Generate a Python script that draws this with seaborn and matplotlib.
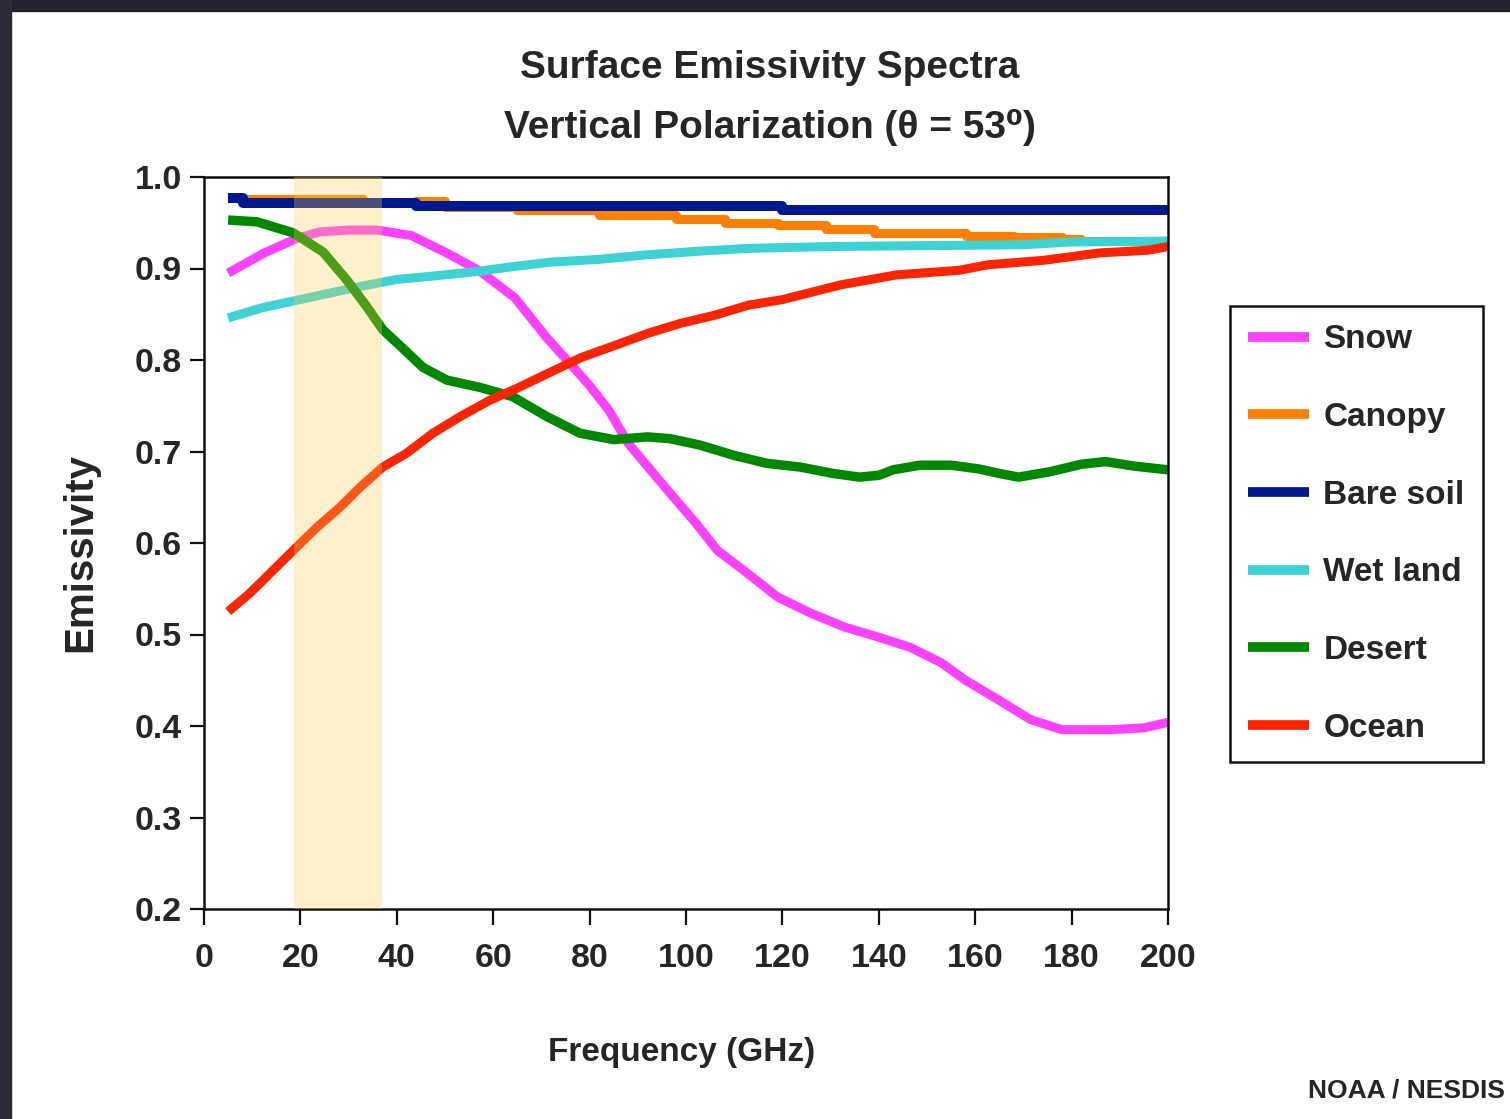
import matplotlib
matplotlib.use("Agg")
import matplotlib.pyplot as plt
import seaborn as sns
import pandas as pd
from matplotlib.patches import Rectangle
from matplotlib import font_manager

# ---------------- data ----------------
series_names = ["Snow", "Canopy", "Bare soil", "Wet land", "Desert", "Ocean"]
series_colors = ["#FF40FF", "#FF7F00", "#00188F", "#3DD2D4", "#008800", "#FF2400"]

snow_x = [5, 12.5, 19.3, 24, 30, 36, 43, 50, 57, 64.5, 71, 77, 80, 84, 88, 95, 102,
          106.5, 112, 119, 126, 133, 140, 146.5, 153, 158, 165, 171.5, 178, 188, 195, 200]
snow_y = [0.895, 0.917, 0.933, 0.940, 0.942, 0.942, 0.936, 0.918, 0.898, 0.868, 0.825,
          0.790, 0.772, 0.745, 0.709, 0.665, 0.622, 0.592, 0.570, 0.541, 0.523, 0.508,
          0.497, 0.486, 0.469, 0.450, 0.428, 0.407, 0.396, 0.396, 0.398, 0.404]

canopy_x = [8, 33, 44, 50, 65, 82, 98, 108, 119, 129, 139, 158, 168, 178, 182, 200]
canopy_y = [0.976, 0.972, 0.974, 0.967, 0.964, 0.959, 0.954, 0.950, 0.947, 0.943,
            0.939, 0.936, 0.934, 0.932, 0.930, 0.930]

baresoil_x = [5, 8, 44, 120, 200]
baresoil_y = [0.977, 0.972, 0.968, 0.964, 0.964]

wetland_x = [5, 12, 19, 26, 33, 40, 50, 57, 64, 72, 82, 92, 103, 113, 130, 150, 170, 180, 200]
wetland_y = [0.846, 0.857, 0.865, 0.873, 0.881, 0.888, 0.893, 0.897, 0.902, 0.907,
             0.910, 0.915, 0.919, 0.922, 0.924, 0.925, 0.926, 0.929, 0.930]

desert_x = [5, 11, 18.5, 24.7, 29.7, 33.8, 37.1, 41, 45.4, 50.4, 57.3, 64, 71.2, 78, 85,
            92, 96.7, 102.9, 109.8, 116.8, 123.7, 130.5, 136, 140, 143, 148.5, 155,
            160.7, 165, 169, 175.6, 182, 187, 193, 200]
desert_y = [0.953, 0.951, 0.939, 0.918, 0.887, 0.858, 0.833, 0.814, 0.792, 0.778, 0.770,
            0.760, 0.738, 0.720, 0.713, 0.716, 0.714, 0.707, 0.696, 0.687, 0.683, 0.676,
            0.672, 0.674, 0.680, 0.685, 0.685, 0.681, 0.676, 0.672, 0.678, 0.686, 0.689,
            0.684, 0.680]

ocean_x = [5, 9.5, 14.3, 19.3, 23.4, 28.2, 32.4, 37.1, 42, 47.5, 53.1, 59.3, 64.9, 71.6,
           78.4, 85.3, 92, 98.8, 106, 113, 120, 132, 143.6, 156.6, 162.6, 174.3, 185.7,
           195.9, 200]
ocean_y = [0.525, 0.545, 0.570, 0.596, 0.617, 0.639, 0.661, 0.683, 0.698, 0.720, 0.738,
           0.756, 0.769, 0.786, 0.803, 0.816, 0.829, 0.840, 0.849, 0.860, 0.866, 0.882,
           0.893, 0.898, 0.904, 0.909, 0.917, 0.920, 0.924]

band_lo, band_hi = 18.7, 36.9          # shaded frequency band (GHz)
x_ticks = list(range(0, 201, 20))
y_ticks = [0.2, 0.3, 0.4, 0.5, 0.6, 0.7, 0.8, 0.9, 1.0]
y_tick_labels = ["0.2", "0.3", "0.4", "0.5", "0.6", "0.7", "0.8", "0.9", "1.0"]

title_1 = "Surface Emissivity Spectra"
title_2 = "Vertical Polarization (\u03b8 = 53\u2070)"
x_label = "Frequency (GHz)"
y_label = "Emissivity"
credit = "NOAA / NESDIS"

# ---------------- style ----------------
sns.set_style("ticks")
avail = {f.name for f in font_manager.fontManager.ttflist}
fam = [f for f in ["Liberation Sans", "DejaVu Sans"] if f in avail] + ["DejaVu Sans"]
plt.rcParams["font.family"] = fam

fig = plt.figure(figsize=(15.10, 11.19), dpi=100)
fig.patch.set_facecolor("white")
ax = fig.add_axes([204 / 1510, 1 - 909 / 1119, 964 / 1510, 732 / 1119])
ax.set_facecolor("white")

frames = [
    (snow_x, snow_y, None, 6.5),
    (canopy_x, canopy_y, "steps-post", 6.5),
    (baresoil_x, baresoil_y, "steps-post", 7.2),
    (wetland_x, wetland_y, None, 6.5),
    (desert_x, desert_y, None, 6.8),
    (ocean_x, ocean_y, None, 6.5),
]
handles = []
for (xs, ys, ds, lw), name, col in zip(frames, series_names, series_colors):
    df = pd.DataFrame({"Frequency": xs, "Emissivity": ys})
    kw = {}
    if ds:
        kw["drawstyle"] = ds
    sns.lineplot(data=df, x="Frequency", y="Emissivity", ax=ax, color=col,
                 linewidth=lw, label=name, legend=False, solid_capstyle="butt",
                 solid_joinstyle="round", **kw)
    handles.append(ax.lines[-1])

ax.axvspan(band_lo, band_hi, color="#FCD052", alpha=0.3, lw=0, zorder=5)

ax.set_xlim(0, 200)
ax.set_ylim(0.2, 1.0)
ax.set_xticks(x_ticks)
ax.set_xticklabels([str(t) for t in x_ticks])
ax.set_yticks(y_ticks)
ax.set_yticklabels(y_tick_labels)
for lab in ax.get_xticklabels() + ax.get_yticklabels():
    lab.set_fontsize(24.5)
    lab.set_fontweight("bold")
ax.tick_params(axis="x", length=11.5, width=1.6, pad=13, color="#111111")
ax.tick_params(axis="y", length=10, width=1.6, pad=6, color="#111111")
for s in ax.spines.values():
    s.set_linewidth(1.8)
    s.set_color("#111111")
    s.set_visible(True)

ax.set_xlabel("")
ax.set_ylabel("")
fig.text(682 / 1510, 1 - 1052 / 1119, x_label, ha="center", va="center",
         fontsize=24, fontweight="bold")
fig.text(80 / 1510, 1 - 552 / 1119, y_label, ha="center", va="center",
         rotation=90, fontsize=29, fontweight="bold")

fig.text(770 / 1510, 1 - 78 / 1119, title_1, ha="center", va="baseline",
         fontsize=28, fontweight="bold")
fig.text(770 / 1510, 1 - 138 / 1119, title_2, ha="center", va="baseline",
         fontsize=28, fontweight="bold")
fig.text(1505 / 1510, 1 - 1097 / 1119, credit, ha="right", va="baseline",
         fontsize=19, fontweight="bold")

leg = ax.legend(handles, series_names, loc="upper left",
                bbox_to_anchor=(1230 / 1510, 1 - 306 / 1119),
                bbox_transform=fig.transFigure, borderaxespad=0,
                frameon=True, fancybox=False, framealpha=1, edgecolor="#111111",
                prop={"size": 24, "weight": "bold"}, handlelength=1.83,
                handletextpad=0.42, labelspacing=1.40, borderpad=0.55)
leg.get_frame().set_linewidth(1.8)
for h in leg.legend_handles:
    h.set_linewidth(7)

# dark screen frame around the picture
fig.patches.append(Rectangle((0, 1 - 10.5 / 1119), 1, 10.5 / 1119,
                             transform=fig.transFigure, color="#23232E", zorder=10))
fig.patches.append(Rectangle((0, 0), 11 / 1510, 1, transform=fig.transFigure,
                             color="#2A2A38", zorder=10))

fig.savefig("out.png", dpi=100)
